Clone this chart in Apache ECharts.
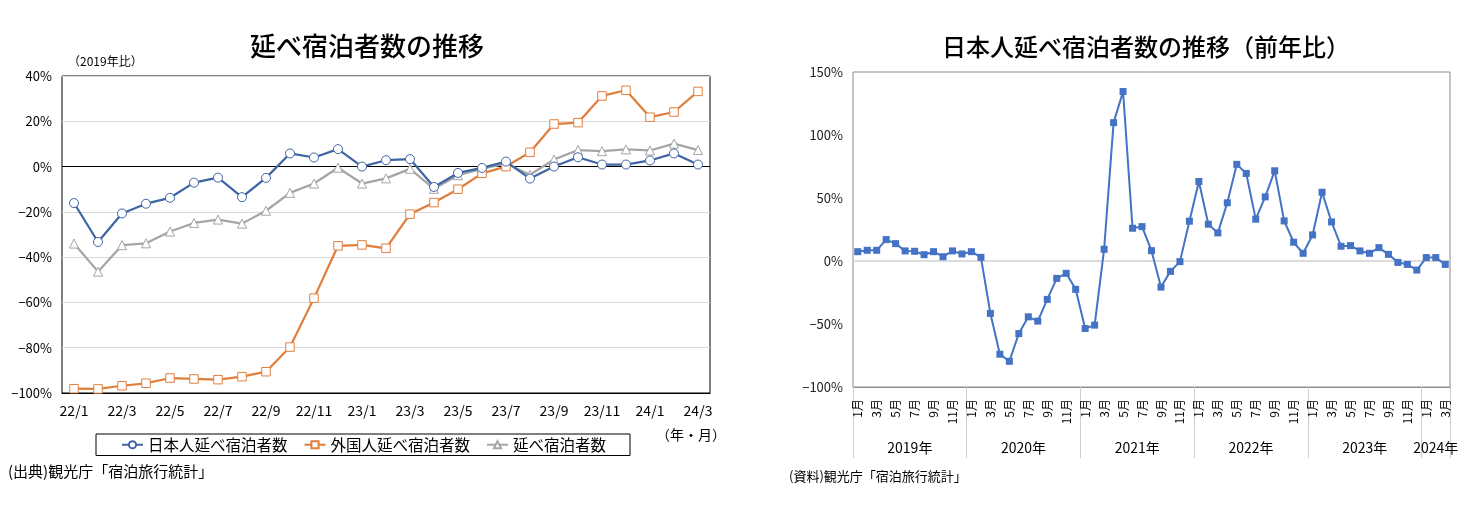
<!DOCTYPE html>
<html>
<head>
<meta charset="utf-8">
<script src="https://cdn.jsdelivr.net/npm/echarts@6/dist/echarts.min.js"></script>
<style>
html,body{margin:0;padding:0;background:#fff;}
#c{width:1476px;height:519px;}
</style>
</head>
<body>
<div id="c"></div>
<script>
// ---- Left chart data (2019年比, %) ----
const leftCats = ['22/1','22/2','22/3','22/4','22/5','22/6','22/7','22/8','22/9','22/10','22/11','22/12',
  '23/1','23/2','23/3','23/4','23/5','23/6','23/7','23/8','23/9','23/10','23/11','23/12','24/1','24/2','24/3'];
const japanese = [-16.1,-33.3,-20.7,-16.4,-13.8,-7.1,-4.9,-13.5,-5.0,5.8,4.0,7.7,
  0.0,2.8,3.3,-9.0,-2.8,-0.6,2.2,-5.3,0.0,4.1,0.9,0.9,2.7,5.8,0.9];
const foreign = [-98.1,-98.2,-96.8,-95.7,-93.4,-93.8,-94.1,-92.8,-90.6,-79.7,-58.1,-35.0,
  -34.6,-36.1,-21.0,-15.9,-10.0,-3.0,0.0,6.3,18.8,19.4,31.2,33.7,21.8,24.1,33.2];
const total = [-34.0,-46.4,-34.7,-33.9,-28.7,-24.9,-23.4,-25.2,-19.5,-11.6,-7.5,-0.5,
  -7.5,-5.2,-1.0,-9.8,-3.8,-1.0,1.4,-3.6,3.1,7.3,6.8,7.6,7.1,10.1,7.3];
const leftNames = ['日本人延べ宿泊者数','外国人延べ宿泊者数','延べ宿泊者数'];

// ---- Right chart data (前年比, %) ----
const years = ['2019年','2020年','2021年','2022年','2023年','2024年'];
const monthsInYear = [12,12,12,12,12,3];
const yoy = [7.4,8.5,8.5,17.0,13.8,8.0,7.7,5.0,7.4,3.4,8.0,5.6,
  7.4,2.9,-41.6,-74.0,-79.6,-57.6,-44.3,-47.7,-30.5,-13.8,-9.8,-22.5,
  -53.6,-50.9,9.3,109.8,134.5,26.0,27.3,8.2,-20.7,-8.2,-0.5,31.6,
  63.1,29.2,22.3,46.2,76.7,69.5,33.2,50.9,71.6,31.8,14.9,6.1,
  20.7,54.6,31.0,11.7,12.2,8.0,6.1,10.6,5.3,-1.1,-2.7,-7.2,
  2.7,2.7,-2.7];

// categories for right chart
const rightCats = [];
const yearCenter = {}; // index -> {label, shifted}
let start = 0;
years.forEach((y, yi) => {
  const n = monthsInYear[yi];
  for (let m = 1; m <= n; m++) rightCats.push(y + m + '月');
  const c = start + n / 2;
  const fi = Math.floor(c);
  yearCenter[fi] = { label: y, shifted: (c - fi) < 0.25 };
  start += n;
});
const monthOf = rightCats.map(s => s.replace(/^\d+年/, ''));

const FONT = '"Noto Sans CJK JP", "Noto Sans", sans-serif';
const minus = v => String(v).replace('-', '−');

const chart = echarts.init(document.getElementById('c'));
chart.setOption({
  backgroundColor: '#fff',
  textStyle: { fontFamily: FONT },
  animation: false,
  title: [
    { text: '延べ宿泊者数の推移', left: 362, top: 28, textAlign: 'center',
      textStyle: { fontSize: 26, fontWeight: 500, color: '#000', fontFamily: FONT } },
    { text: '日本人延べ宿泊者数の推移（前年比）', left: 1141, top: 30, textAlign: 'center',
      textStyle: { fontSize: 24, fontWeight: 500, color: '#000', fontFamily: FONT } }
  ],
  legend: {
    data: leftNames,
    left: 96, top: 434,
    padding: [3, 24, 3, 25],
    itemGap: 16,
    itemWidth: 21, itemHeight: 9,
    borderColor: '#000', borderWidth: 1,
    textStyle: { fontSize: 15.5, color: '#000', fontFamily: FONT }
  },
  grid: [
    { left: 62, width: 648, top: 76, height: 317, show: true, borderColor: '#000', borderWidth: 1, containLabel: false },
    { left: 853, width: 597, top: 72, height: 315, show: true, borderColor: '#8c8c8c', borderWidth: 1, containLabel: false }
  ],
  xAxis: [
    { type: 'category', gridIndex: 0, data: leftCats, boundaryGap: true,
      axisLine: { show: true, onZero: false, lineStyle: { color: '#000' } },
      axisTick: { show: false },
      axisLabel: { interval: 1, fontSize: 14, color: '#000', margin: 11, fontFamily: FONT } },
    { type: 'category', gridIndex: 1, data: rightCats, boundaryGap: true,
      axisLine: { show: true, onZero: false, lineStyle: { color: '#8c8c8c' } },
      axisTick: { show: true, interval: (i) => i % 12 === 0, length: 71, lineStyle: { color: '#cfcfcf' } },
      axisLabel: { interval: (i) => i % 2 === 0, rotate: 90, fontSize: 12, color: '#000', margin: 12,
        formatter: (v, i) => monthOf[i], fontFamily: FONT } },
    { type: 'category', gridIndex: 1, data: rightCats, boundaryGap: true, position: 'bottom', offset: 54,
      axisLine: { show: false, onZero: false }, axisTick: { show: false },
      axisLabel: { interval: 0, fontSize: 14, color: '#000', margin: 0, fontFamily: FONT,
        formatter: (v, i) => {
          const yc = yearCenter[i];
          if (!yc) return '';
          return yc.shifted ? '{a|' + yc.label + '}' : '{b|' + yc.label + '}';
        },
        rich: {
          a: { fontSize: 14, color: '#000', padding: [0, 9.5, 0, 0], fontFamily: FONT },
          b: { fontSize: 14, color: '#000', fontFamily: FONT }
        } } }
  ],
  yAxis: [
    { type: 'value', gridIndex: 0, min: -100, max: 40, interval: 20,
      axisLine: { show: false }, axisTick: { show: false },
      splitLine: { show: true, lineStyle: { color: ['#d9d9d9','#d9d9d9','#d9d9d9','#d9d9d9','#d9d9d9','#000','#d9d9d9','#d9d9d9'], width: 1 } },
      axisLabel: { fontSize: 13, color: '#000', margin: 10, formatter: v => minus(v) + '%', fontFamily: FONT } },
    { type: 'value', gridIndex: 1, min: -100, max: 150, interval: 50,
      axisLine: { show: false }, axisTick: { show: false },
      splitLine: { show: true, lineStyle: { color: ['transparent','transparent','#d0d0d0','transparent','transparent','transparent'], width: 1.5 } },
      axisLabel: { fontSize: 13, color: '#222', margin: 10, formatter: v => minus(v) + '%', fontFamily: FONT } }
  ],
  series: [
    { name: leftNames[0], type: 'line', xAxisIndex: 0, yAxisIndex: 0, data: japanese,
      symbol: 'circle', symbolSize: 9, z: 4, showAllSymbol: true,
      lineStyle: { color: '#3f65a3', width: 2.25 },
      itemStyle: { color: '#fff', borderColor: '#3f65a3', borderWidth: 1 } },
    { name: leftNames[1], type: 'line', xAxisIndex: 0, yAxisIndex: 0, data: foreign,
      symbol: 'rect', symbolSize: 8.5, z: 3, showAllSymbol: true,
      lineStyle: { color: '#e07e3c', width: 2.25 },
      itemStyle: { color: '#fff', borderColor: '#e07e3c', borderWidth: 1 } },
    { name: leftNames[2], type: 'line', xAxisIndex: 0, yAxisIndex: 0, data: total,
      symbol: 'triangle', symbolSize: 9, z: 2, showAllSymbol: true,
      lineStyle: { color: '#a5a5a5', width: 2.25 },
      itemStyle: { color: '#fff', borderColor: '#a5a5a5', borderWidth: 1 } },
    { name: '前年比', type: 'line', xAxisIndex: 1, yAxisIndex: 1, data: yoy,
      symbol: 'rect', symbolSize: 7, showAllSymbol: true,
      lineStyle: { color: '#4472c4', width: 2 },
      itemStyle: { color: '#4472c4' } }
  ],
  graphic: [
    { type: 'text', left: 68, top: 55, style: { text: '（2019年比）', fontSize: 12, fill: '#000', fontFamily: FONT } },
    { type: 'text', left: 656, top: 428, style: { text: '（年・月）', fontSize: 14, fill: '#000', fontFamily: FONT } },
    { type: 'text', left: 8, top: 464, style: { text: '(出典)観光庁「宿泊旅行統計」', fontSize: 15, fill: '#000', fontFamily: FONT } },
    { type: 'text', left: 789, top: 470, style: { text: '(資料)観光庁「宿泊旅行統計」', fontSize: 13, fill: '#000', fontFamily: FONT } }
  ]
});
</script>
</body>
</html>
